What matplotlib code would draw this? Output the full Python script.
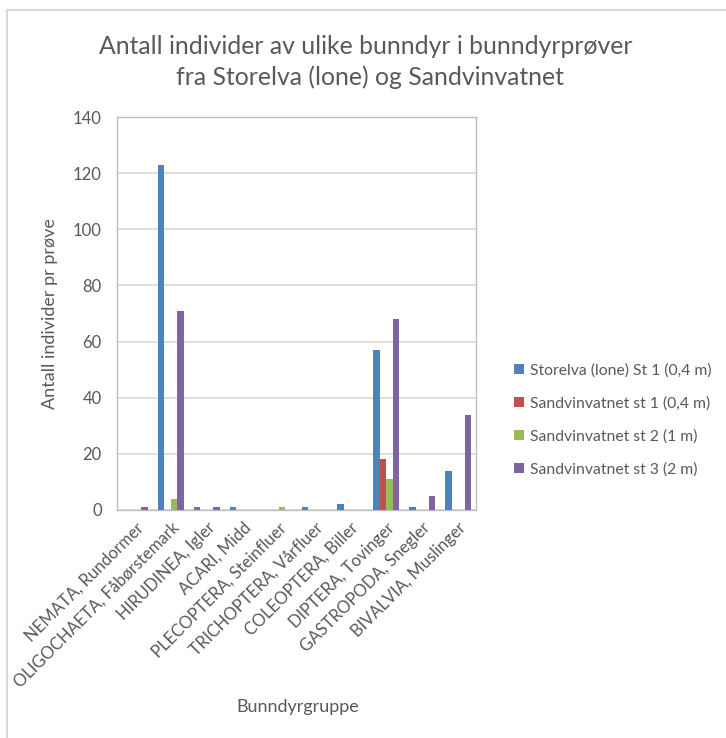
import matplotlib.pyplot as plt
from matplotlib.lines import Line2D
import numpy as np

# Bunndyrgrupper og antall individer per prøve
groups = ['NEMATA, Rundormer', 'OLIGOCHAETA, Fåbørstemark', 'HIRUDINEA, Igler',
          'ACARI, Midd', 'PLECOPTERA, Steinfluer', 'TRICHOPTERA, Vårfluer',
          'COLEOPTERA, Biller', 'DIPTERA, Tovinger', 'GASTROPODA, Snegler',
          'BIVALVIA, Muslinger']
series_names = ['Storelva (lone) St 1 (0,4 m)', 'Sandvinvatnet st 1 (0,4 m)',
                'Sandvinvatnet st 2 (1 m)', 'Sandvinvatnet st 3 (2 m)']
storelva_st1 = [0, 123, 1, 1, 0, 1, 2, 57, 1, 14]
sandvin_st1 = [0, 0, 0, 0, 0, 0, 0, 18, 0, 0]
sandvin_st2 = [0, 4, 0, 0, 1, 0, 0, 11, 0, 0]
sandvin_st3 = [1, 71, 1, 0, 0, 0, 0, 68, 5, 34]
yticks = [0, 20, 40, 60, 80, 100, 120, 140]

colors = ['#4F81BD', '#C0504D', '#9BBB59', '#8064A2']
txt = '#595959'
plt.rcParams['font.family'] = ['Lato', 'DejaVu Sans']

fig = plt.figure(figsize=(7.26, 7.38), dpi=100)
ax = fig.add_axes([117/726, 1 - 510/738, 359/726, 393/738])

x = np.arange(len(groups))
w = 0.18
for i, (vals, c, name) in enumerate(zip([storelva_st1, sandvin_st1, sandvin_st2, sandvin_st3],
                                        colors, series_names)):
    ax.bar(x + (i - 1.5) * w, vals, width=w, color=c, label=name, zorder=3)

ax.set_xlim(-0.5, len(groups) - 0.5)
ax.set_ylim(0, 140)
ax.set_yticks(yticks)
ax.yaxis.grid(True, color='#D9D9D9', linewidth=1.2, zorder=0)
for s in ax.spines.values():
    s.set_color('#BFBFBF')
    s.set_linewidth(1.0)
ax.tick_params(axis='both', length=0, colors=txt, labelsize=12)
ax.tick_params(axis='y', pad=11)
ax.set_xticks(x)
ax.set_xticklabels(groups, rotation=45, ha='right', rotation_mode='anchor')
ax.tick_params(axis='x', pad=7)

ax.set_ylabel('Antall individer pr prøve', color=txt, fontsize=13, labelpad=11)
fig.text(298/726, 1 - 707/738, 'Bunndyrgruppe', color=txt, fontsize=13,
         ha='center', va='center')

fig.text(366/726, 1 - 46/738, 'Antall individer av ulike bunndyr i bunndyrprøver',
         color=txt, fontsize=17.8, ha='center', va='center')
fig.text(370/726, 1 - 77/738, 'fra Storelva (lone) og Sandvinvatnet',
         color=txt, fontsize=17.8, ha='center', va='center')

leg = fig.legend(loc='center left', bbox_to_anchor=(500/726, 1 - 420/738),
                 frameon=False, fontsize=11.3, handlelength=0.6, handleheight=0.6,
                 handletextpad=0.4, labelspacing=1.2)
for t in leg.get_texts():
    t.set_color(txt)

# ramme rundt diagramområdet
fig.add_artist(Line2D([7/726, 7/726], [0, 1 - 10/738], color='#D9D9D9', lw=1.5,
                      transform=fig.transFigure))
fig.add_artist(Line2D([7/726, 1], [1 - 10/738, 1 - 10/738], color='#D9D9D9', lw=1.5,
                      transform=fig.transFigure))

fig.savefig('out.png', dpi=100)
